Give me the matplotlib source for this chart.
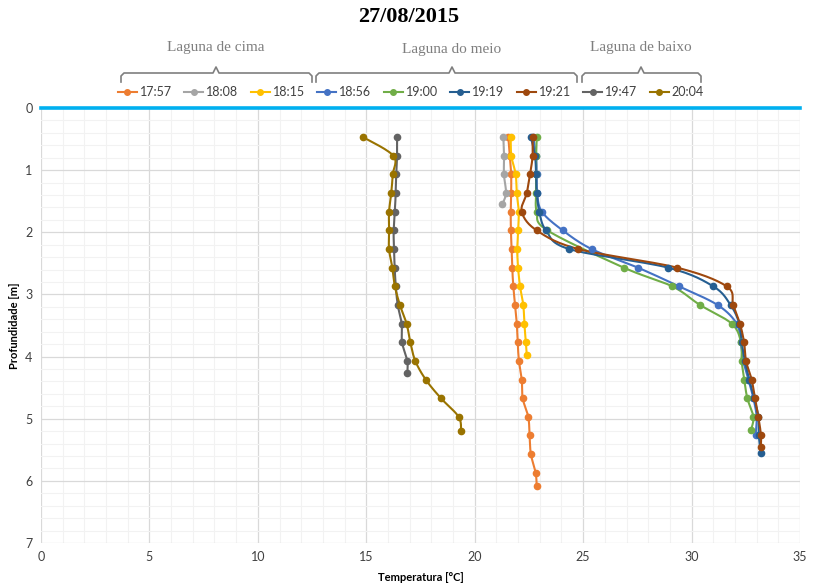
import matplotlib
matplotlib.use("Agg")
import matplotlib.pyplot as plt
from matplotlib.lines import Line2D
import numpy as np

# Temperature profiles (depth in m, temperature in degC).
labels = ["17:57", "18:08", "18:15", "18:56", "19:00", "19:19", "19:21", "19:47", "20:04"]
colors = ["#ED7D31", "#A5A5A5", "#FFC000", "#4472C4", "#70AD47", "#255E91", "#9E480E", "#636363", "#997300"]

depth_1757 = [0.47, 0.77, 1.07, 1.37, 1.67, 1.97, 2.27, 2.57, 2.87, 3.17, 3.47, 3.77, 4.07, 4.37, 4.67, 4.97, 5.27, 5.57, 5.87, 6.09]
temp_1757 = [21.55, 21.62, 21.68, 21.68, 21.66, 21.67, 21.70, 21.73, 21.78, 21.86, 21.94, 21.98, 22.04, 22.17, 22.21, 22.47, 22.53, 22.59, 22.81, 22.86]

depth_1808 = [0.47, 0.77, 1.07, 1.37, 1.55]
temp_1808 = [21.32, 21.35, 21.35, 21.44, 21.27]

depth_1815 = [0.47, 0.77, 1.07, 1.37, 1.67, 1.97, 2.27, 2.57, 2.87, 3.17, 3.47, 3.77, 3.98]
temp_1815 = [21.66, 21.69, 21.89, 21.94, 22.03, 22.00, 21.96, 22.00, 22.09, 22.24, 22.29, 22.36, 22.40]

depth_1856 = [0.47, 0.77, 1.07, 1.37, 1.67, 1.97, 2.27, 2.57, 2.87, 3.17, 3.47, 3.77, 4.07, 4.37, 4.67, 4.97, 5.27]
temp_1856 = [22.70, 22.83, 22.86, 22.88, 23.10, 24.06, 25.39, 27.53, 29.42, 31.20, 32.08, 32.26, 32.39, 32.62, 32.85, 33.00, 32.95]

depth_1900 = [0.47, 0.77, 1.07, 1.37, 1.67, 1.97, 2.57, 2.87, 3.17, 3.47, 3.77, 4.07, 4.37, 4.67, 4.97, 5.18]
temp_1900 = [22.86, 22.83, 22.83, 22.83, 22.86, 23.35, 26.88, 29.11, 30.39, 31.85, 32.28, 32.31, 32.43, 32.57, 32.85, 32.74]

depth_1919 = [0.47, 0.77, 1.07, 1.37, 1.67, 1.97, 2.27, 2.57, 2.87, 3.17, 3.47, 3.77, 4.07, 4.37, 4.67, 4.97, 5.27, 5.55]
temp_1919 = [22.59, 22.78, 22.83, 22.86, 22.98, 23.29, 24.36, 28.93, 31.00, 31.80, 32.20, 32.31, 32.46, 32.66, 32.89, 33.08, 33.10, 33.19]

depth_1921 = [0.47, 0.77, 1.07, 1.37, 1.67, 1.97, 2.27, 2.57, 2.87, 3.17, 3.47, 3.77, 4.07, 4.37, 4.67, 4.97, 5.27, 5.45]
temp_1921 = [22.67, 22.67, 22.55, 22.40, 22.17, 22.86, 24.78, 29.34, 31.62, 31.92, 32.23, 32.42, 32.51, 32.77, 32.92, 33.08, 33.20, 33.19]

depth_1947 = [0.47, 0.77, 1.07, 1.37, 1.67, 1.97, 2.27, 2.57, 2.87, 3.17, 3.47, 3.77, 4.07, 4.27]
temp_1947 = [16.42, 16.42, 16.38, 16.36, 16.31, 16.26, 16.28, 16.31, 16.36, 16.45, 16.63, 16.65, 16.89, 16.89]

depth_2004 = [0.47, 0.77, 1.07, 1.37, 1.67, 1.97, 2.27, 2.57, 2.87, 3.17, 3.47, 3.77, 4.07, 4.37, 4.67, 4.97, 5.20]
temp_2004 = [14.86, 16.25, 16.22, 16.15, 16.05, 16.05, 16.05, 16.20, 16.32, 16.55, 16.86, 17.03, 17.26, 17.74, 18.44, 19.26, 19.37]

series = [
    (temp_1757, depth_1757), (temp_1808, depth_1808), (temp_1815, depth_1815),
    (temp_1856, depth_1856), (temp_1900, depth_1900), (temp_1919, depth_1919),
    (temp_1921, depth_1921), (temp_1947, depth_1947), (temp_2004, depth_2004),
]

groups = ["Laguna de cima", "Laguna do meio", "Laguna de baixo"]


def smooth(x, y, n=16):
    # Excel-style smoothed line: Bezier segments with Catmull-Rom control points
    p = np.column_stack([x, y]).astype(float)
    p = np.vstack([p[0], p, p[-1]])
    out = []
    t = np.linspace(0, 1, n)[:, None]
    for i in range(1, len(p) - 2):
        p0, p1, p2, p3 = p[i - 1], p[i], p[i + 1], p[i + 2]
        c1 = p1 + (p2 - p0) / 6.0
        c2 = p2 - (p3 - p1) / 6.0
        seg = (1 - t) ** 3 * p1 + 3 * (1 - t) ** 2 * t * c1 + 3 * (1 - t) * t ** 2 * c2 + t ** 3 * p2
        out.append(seg if i == 1 else seg[1:])
    out = np.vstack(out)
    return out[:, 0], out[:, 1]


W, H = 817, 585
fig = plt.figure(figsize=(W / 100, H / 100), dpi=100)
ax = fig.add_axes([41 / W, 1 - 543 / H, (800 - 41) / W, (543 - 108) / H])

# Grid
ax.set_xlim(0, 35)
ax.set_ylim(7, 0)
ax.set_xticks(np.arange(0, 36, 5))
ax.set_yticks(np.arange(0, 8, 1))
ax.set_xticks(np.arange(0, 36, 1), minor=True)
ax.set_yticks(np.arange(0, 7.01, 0.2), minor=True)
ax.grid(which="major", color="#D9D9D9", lw=0.9)
ax.grid(which="minor", color="#F2F2F2", lw=0.8)
ax.set_axisbelow(True)
for s in ax.spines.values():
    s.set_visible(False)
ax.tick_params(which="both", length=0, labelsize=9, colors="#404040", pad=6)
for lab in ax.get_xticklabels() + ax.get_yticklabels():
    lab.set_family("Lato")

# Water surface line
ax.axhline(0, color="#00B0F0", lw=2.6, zorder=5, clip_on=False)

# Profiles
for (t, d), c, lab in zip(series, colors, labels):
    sx, sy = smooth(t, d)
    ax.plot(sx, sy, color=c, lw=1.5, zorder=3)
    ax.plot(t, d, "o", color=c, ms=4.5, zorder=4)

ax.set_xlabel("Temperatura [°C]", fontsize=8, fontweight="bold", family="Lato", color="#000000", labelpad=6)
ax.set_ylabel("Profundidade [m]", fontsize=8, fontweight="bold", family="Lato", color="#000000", labelpad=4)

# Title
fig.text(0.5, 1 - 17 / H, "27/08/2015", ha="center", va="center", fontsize=16, fontweight="bold",
         family="Liberation Serif")

# Legend
handles = [Line2D([], [], color=c, lw=1.5, marker="o", ms=4) for c in colors]
leg = fig.legend(handles, labels, loc="center", bbox_to_anchor=(411 / W, 1 - 92 / H), ncol=9, frameon=False,
                 handlelength=1.5, handletextpad=0.25, columnspacing=1.0, borderaxespad=0,
                 prop={"family": "Lato", "size": 9})
for txt in leg.get_texts():
    txt.set_color("#404040")

# Group brackets and names
def px(x, y):
    return x / W, 1 - y / H

brackets = [(121, 216, 312), (316, 452, 577), (582, 641, 701)]
for (x0, xc, x1), name in zip(brackets, groups):
    pts = [(x0, 82), (x0, 76), (x0 + 3, 73), (xc - 3, 73), (xc, 67), (xc + 3, 73), (x1 - 3, 73), (x1, 76), (x1, 82)]
    xs, ys = zip(*[px(a, b) for a, b in pts])
    fig.add_artist(Line2D(xs, ys, color="#7F7F7F", lw=1.2, transform=fig.transFigure))
brack_text_y = [48, 50, 48]
for (x0, xc, x1), name, ty in zip(brackets, groups, brack_text_y):
    fx, fy = px(xc, ty)
    fig.text(fx, fy, name, ha="center", va="center", fontsize=11, color="#7F7F7F", family="Liberation Serif")

fig.savefig("out.png", dpi=100)
